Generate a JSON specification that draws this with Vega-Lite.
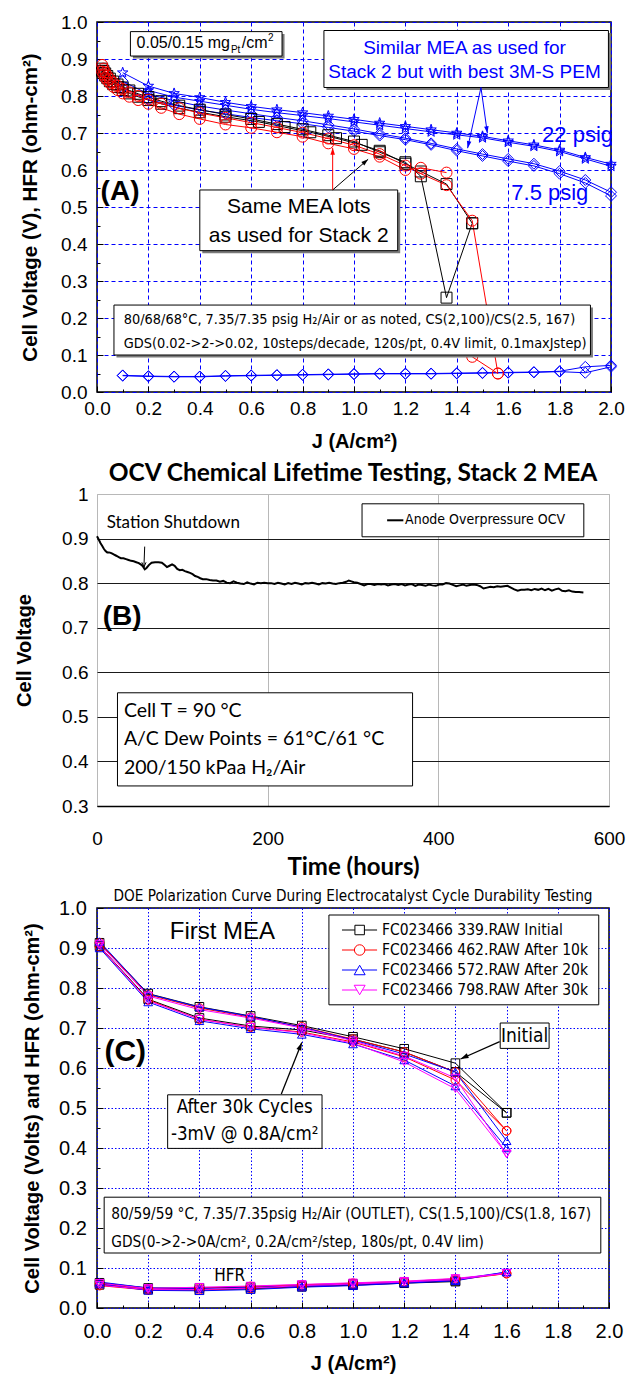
{
"$schema": "https://vega.github.io/schema/vega-lite/v6.json",
"background": "white",
"padding": {"left": 14, "top": 12, "right": 0, "bottom": 0},
"bounds": "flush",
"spacing": 102,
"resolve": {"scale": {"color": "independent", "shape": "independent", "size": "independent"}, "legend": {"color": "independent", "shape": "independent", "size": "independent"}},
"config": {"font": "Liberation Sans", "axis": {"labelColor": "#000", "titleColor": "#000", "labelFont": "Liberation Sans", "titleFont": "Liberation Sans"}, "title": {"color": "#000"}},
"datasets": {
"polA": [
{"s":"S22a","j":0.1,"v":0.863},{"s":"S22a","j":0.2,"v":0.827},{"s":"S22a","j":0.3,"v":0.807},{"s":"S22a","j":0.4,"v":0.796},{"s":"S22a","j":0.5,"v":0.783},{"s":"S22a","j":0.6,"v":0.772},{"s":"S22a","j":0.7,"v":0.763},{"s":"S22a","j":0.8,"v":0.755},{"s":"S22a","j":0.9,"v":0.746},{"s":"S22a","j":1.0,"v":0.737},{"s":"S22a","j":1.1,"v":0.727},{"s":"S22a","j":1.2,"v":0.718},{"s":"S22a","j":1.3,"v":0.709},{"s":"S22a","j":1.4,"v":0.7},{"s":"S22a","j":1.5,"v":0.691},{"s":"S22a","j":1.6,"v":0.679},{"s":"S22a","j":1.7,"v":0.668},{"s":"S22a","j":1.8,"v":0.654},{"s":"S22a","j":1.9,"v":0.634},{"s":"S22a","j":2.0,"v":0.616},
{"s":"S22b","j":0.2,"v":0.815},{"s":"S22b","j":0.3,"v":0.797},{"s":"S22b","j":0.4,"v":0.786},{"s":"S22b","j":0.5,"v":0.775},{"s":"S22b","j":0.6,"v":0.764},{"s":"S22b","j":0.7,"v":0.755},{"s":"S22b","j":0.8,"v":0.747},{"s":"S22b","j":0.9,"v":0.739},{"s":"S22b","j":1.0,"v":0.73},{"s":"S22b","j":1.1,"v":0.721},{"s":"S22b","j":1.2,"v":0.712},{"s":"S22b","j":1.3,"v":0.703},{"s":"S22b","j":1.4,"v":0.695},{"s":"S22b","j":1.5,"v":0.687},{"s":"S22b","j":1.6,"v":0.675},{"s":"S22b","j":1.7,"v":0.664},{"s":"S22b","j":1.8,"v":0.65},{"s":"S22b","j":1.9,"v":0.63},{"s":"S22b","j":2.0,"v":0.61},
{"s":"D75a","j":0.1,"v":0.84},{"s":"D75a","j":0.2,"v":0.805},{"s":"D75a","j":0.3,"v":0.787},{"s":"D75a","j":0.4,"v":0.773},{"s":"D75a","j":0.5,"v":0.762},{"s":"D75a","j":0.6,"v":0.752},{"s":"D75a","j":0.7,"v":0.742},{"s":"D75a","j":0.8,"v":0.733},{"s":"D75a","j":0.9,"v":0.722},{"s":"D75a","j":1.0,"v":0.711},{"s":"D75a","j":1.1,"v":0.698},{"s":"D75a","j":1.2,"v":0.686},{"s":"D75a","j":1.3,"v":0.672},{"s":"D75a","j":1.4,"v":0.657},{"s":"D75a","j":1.5,"v":0.643},{"s":"D75a","j":1.6,"v":0.63},{"s":"D75a","j":1.7,"v":0.617},{"s":"D75a","j":1.8,"v":0.597},{"s":"D75a","j":1.9,"v":0.573},{"s":"D75a","j":2.0,"v":0.54},
{"s":"D75b","j":0.1,"v":0.822},{"s":"D75b","j":0.2,"v":0.79},{"s":"D75b","j":0.3,"v":0.775},{"s":"D75b","j":0.4,"v":0.762},{"s":"D75b","j":0.5,"v":0.752},{"s":"D75b","j":0.6,"v":0.742},{"s":"D75b","j":0.7,"v":0.733},{"s":"D75b","j":0.8,"v":0.725},{"s":"D75b","j":0.9,"v":0.715},{"s":"D75b","j":1.0,"v":0.705},{"s":"D75b","j":1.1,"v":0.693},{"s":"D75b","j":1.2,"v":0.682},{"s":"D75b","j":1.3,"v":0.668},{"s":"D75b","j":1.4,"v":0.652},{"s":"D75b","j":1.5,"v":0.638},{"s":"D75b","j":1.6,"v":0.624},{"s":"D75b","j":1.7,"v":0.611},{"s":"D75b","j":1.8,"v":0.59},{"s":"D75b","j":1.9,"v":0.565},{"s":"D75b","j":2.0,"v":0.53},
{"s":"H1","j":0.1,"v":0.045},{"s":"H1","j":0.2,"v":0.043},{"s":"H1","j":0.3,"v":0.042},{"s":"H1","j":0.4,"v":0.042},{"s":"H1","j":0.5,"v":0.044},{"s":"H1","j":0.6,"v":0.045},{"s":"H1","j":0.7,"v":0.046},{"s":"H1","j":0.8,"v":0.047},{"s":"H1","j":0.9,"v":0.048},{"s":"H1","j":1.0,"v":0.049},{"s":"H1","j":1.1,"v":0.05},{"s":"H1","j":1.2,"v":0.05},{"s":"H1","j":1.3,"v":0.05},{"s":"H1","j":1.4,"v":0.051},{"s":"H1","j":1.5,"v":0.052},{"s":"H1","j":1.6,"v":0.053},{"s":"H1","j":1.7,"v":0.054},{"s":"H1","j":1.8,"v":0.056},{"s":"H1","j":1.9,"v":0.068},{"s":"H1","j":2.0,"v":0.072},
{"s":"H2","j":0.1,"v":0.044},{"s":"H2","j":0.2,"v":0.042},{"s":"H2","j":0.3,"v":0.041},{"s":"H2","j":0.4,"v":0.041},{"s":"H2","j":0.5,"v":0.043},{"s":"H2","j":0.6,"v":0.044},{"s":"H2","j":0.7,"v":0.045},{"s":"H2","j":0.8,"v":0.046},{"s":"H2","j":0.9,"v":0.047},{"s":"H2","j":1.0,"v":0.048},{"s":"H2","j":1.1,"v":0.049},{"s":"H2","j":1.2,"v":0.049},{"s":"H2","j":1.3,"v":0.049},{"s":"H2","j":1.4,"v":0.05},{"s":"H2","j":1.5,"v":0.051},{"s":"H2","j":1.6,"v":0.052},{"s":"H2","j":1.7,"v":0.053},{"s":"H2","j":1.8,"v":0.055},{"s":"H2","j":1.9,"v":0.052},{"s":"H2","j":2.0,"v":0.068},
{"s":"K1","j":0.02,"v":0.874},{"s":"K1","j":0.025,"v":0.868},{"s":"K1","j":0.032,"v":0.861},{"s":"K1","j":0.04,"v":0.854},{"s":"K1","j":0.05,"v":0.847},{"s":"K1","j":0.063,"v":0.839},{"s":"K1","j":0.08,"v":0.831},{"s":"K1","j":0.1,"v":0.823},{"s":"K1","j":0.126,"v":0.815},{"s":"K1","j":0.16,"v":0.806},{"s":"K1","j":0.2,"v":0.797},{"s":"K1","j":0.25,"v":0.786},{"s":"K1","j":0.32,"v":0.774},{"s":"K1","j":0.4,"v":0.763},{"s":"K1","j":0.5,"v":0.75},{"s":"K1","j":0.6,"v":0.738},{"s":"K1","j":0.7,"v":0.724},{"s":"K1","j":0.8,"v":0.71},{"s":"K1","j":0.9,"v":0.694},{"s":"K1","j":1.0,"v":0.677},{"s":"K1","j":1.1,"v":0.648},{"s":"K1","j":1.2,"v":0.621},{"s":"K1","j":1.26,"v":0.583},{"s":"K1","j":1.36,"v":0.255},{"s":"K1","j":1.46,"v":0.456},
{"s":"K2","j":0.02,"v":0.868},{"s":"K2","j":0.025,"v":0.862},{"s":"K2","j":0.032,"v":0.855},{"s":"K2","j":0.04,"v":0.848},{"s":"K2","j":0.05,"v":0.84},{"s":"K2","j":0.063,"v":0.832},{"s":"K2","j":0.08,"v":0.824},{"s":"K2","j":0.1,"v":0.816},{"s":"K2","j":0.126,"v":0.807},{"s":"K2","j":0.16,"v":0.798},{"s":"K2","j":0.2,"v":0.789},{"s":"K2","j":0.25,"v":0.779},{"s":"K2","j":0.32,"v":0.767},{"s":"K2","j":0.4,"v":0.756},{"s":"K2","j":0.5,"v":0.744},{"s":"K2","j":0.63,"v":0.73},{"s":"K2","j":0.73,"v":0.716},{"s":"K2","j":0.83,"v":0.702},{"s":"K2","j":0.93,"v":0.686},{"s":"K2","j":1.03,"v":0.668},{"s":"K2","j":1.1,"v":0.652},{"s":"K2","j":1.2,"v":0.617},{"s":"K2","j":1.26,"v":0.596},{"s":"K2","j":1.36,"v":0.562},{"s":"K2","j":1.46,"v":0.456},
{"s":"R1","j":0.02,"v":0.884},{"s":"R1","j":0.025,"v":0.874},{"s":"R1","j":0.032,"v":0.864},{"s":"R1","j":0.04,"v":0.855},{"s":"R1","j":0.05,"v":0.846},{"s":"R1","j":0.063,"v":0.837},{"s":"R1","j":0.08,"v":0.828},{"s":"R1","j":0.1,"v":0.819},{"s":"R1","j":0.126,"v":0.81},{"s":"R1","j":0.16,"v":0.8},{"s":"R1","j":0.2,"v":0.79},{"s":"R1","j":0.25,"v":0.779},{"s":"R1","j":0.32,"v":0.767},{"s":"R1","j":0.4,"v":0.754},{"s":"R1","j":0.5,"v":0.741},{"s":"R1","j":0.6,"v":0.728},{"s":"R1","j":0.7,"v":0.715},{"s":"R1","j":0.8,"v":0.701},{"s":"R1","j":0.9,"v":0.685},{"s":"R1","j":1.0,"v":0.667},{"s":"R1","j":1.1,"v":0.643},{"s":"R1","j":1.2,"v":0.612},{"s":"R1","j":1.26,"v":0.59},{"s":"R1","j":1.36,"v":0.559},{"s":"R1","j":1.46,"v":0.463},{"s":"R1","j":1.56,"v":0.05},
{"s":"R1t","j":1.46,"v":0.095},{"s":"R1t","j":1.56,"v":0.05},
{"s":"R2","j":0.02,"v":0.866},{"s":"R2","j":0.025,"v":0.858},{"s":"R2","j":0.032,"v":0.85},{"s":"R2","j":0.04,"v":0.842},{"s":"R2","j":0.05,"v":0.834},{"s":"R2","j":0.063,"v":0.825},{"s":"R2","j":0.08,"v":0.816},{"s":"R2","j":0.1,"v":0.807},{"s":"R2","j":0.126,"v":0.798},{"s":"R2","j":0.16,"v":0.789},{"s":"R2","j":0.2,"v":0.779},{"s":"R2","j":0.25,"v":0.768},{"s":"R2","j":0.32,"v":0.751},{"s":"R2","j":0.4,"v":0.738},{"s":"R2","j":0.5,"v":0.723},{"s":"R2","j":0.6,"v":0.714},{"s":"R2","j":0.7,"v":0.702},{"s":"R2","j":0.8,"v":0.69},{"s":"R2","j":0.9,"v":0.672},{"s":"R2","j":1.0,"v":0.657},{"s":"R2","j":1.1,"v":0.636},{"s":"R2","j":1.2,"v":0.6},{"s":"R2","j":1.26,"v":0.606},{"s":"R2","j":1.36,"v":0.593}
],
"ocv": [
{"t":0,"v":0.905},{"t":2,"v":0.898},{"t":4,"v":0.89},{"t":6,"v":0.884},{"t":8,"v":0.877},{"t":10,"v":0.872},{"t":12,"v":0.869},{"t":14,"v":0.869},{"t":16,"v":0.868},{"t":18,"v":0.866},{"t":20,"v":0.864},{"t":22,"v":0.862},{"t":24,"v":0.86},{"t":26,"v":0.858},{"t":28,"v":0.856},{"t":31,"v":0.856},{"t":34,"v":0.854},{"t":37,"v":0.852},{"t":40,"v":0.85},{"t":43,"v":0.849},{"t":46,"v":0.847},{"t":49,"v":0.845},{"t":52,"v":0.841},{"t":54,"v":0.837},{"t":56,"v":0.831},{"t":58,"v":0.834},{"t":61,"v":0.841},{"t":64,"v":0.846},{"t":68,"v":0.847},{"t":72,"v":0.847},{"t":76,"v":0.846},{"t":79,"v":0.841},{"t":82,"v":0.836},{"t":85,"v":0.839},{"t":88,"v":0.842},{"t":91,"v":0.839},{"t":94,"v":0.832},{"t":97,"v":0.829},{"t":100,"v":0.83},{"t":103,"v":0.827},{"t":106,"v":0.825},{"t":109,"v":0.823},{"t":112,"v":0.82},{"t":115,"v":0.816},{"t":118,"v":0.814},{"t":121,"v":0.811},{"t":124,"v":0.809},{"t":128,"v":0.809},{"t":132,"v":0.807},{"t":136,"v":0.806},{"t":140,"v":0.806},{"t":144,"v":0.803},{"t":148,"v":0.805},{"t":152,"v":0.801},{"t":156,"v":0.8},{"t":160,"v":0.804},{"t":164,"v":0.801},{"t":168,"v":0.799},{"t":172,"v":0.798},{"t":176,"v":0.802},{"t":180,"v":0.799},{"t":184,"v":0.797},{"t":188,"v":0.801},{"t":192,"v":0.8},{"t":196,"v":0.801},{"t":200,"v":0.8},{"t":204,"v":0.8},{"t":208,"v":0.798},{"t":212,"v":0.801},{"t":216,"v":0.799},{"t":220,"v":0.797},{"t":224,"v":0.8},{"t":228,"v":0.798},{"t":232,"v":0.801},{"t":236,"v":0.799},{"t":240,"v":0.797},{"t":244,"v":0.8},{"t":248,"v":0.799},{"t":252,"v":0.801},{"t":256,"v":0.799},{"t":260,"v":0.797},{"t":264,"v":0.8},{"t":268,"v":0.799},{"t":272,"v":0.801},{"t":276,"v":0.799},{"t":280,"v":0.798},{"t":284,"v":0.8},{"t":288,"v":0.801},{"t":292,"v":0.803},{"t":295,"v":0.806},{"t":298,"v":0.804},{"t":301,"v":0.802},{"t":305,"v":0.801},{"t":309,"v":0.798},{"t":313,"v":0.795},{"t":317,"v":0.798},{"t":321,"v":0.798},{"t":325,"v":0.796},{"t":329,"v":0.798},{"t":333,"v":0.797},{"t":337,"v":0.798},{"t":341,"v":0.795},{"t":345,"v":0.797},{"t":349,"v":0.798},{"t":353,"v":0.796},{"t":357,"v":0.798},{"t":361,"v":0.795},{"t":365,"v":0.797},{"t":369,"v":0.798},{"t":373,"v":0.794},{"t":377,"v":0.797},{"t":381,"v":0.796},{"t":385,"v":0.794},{"t":389,"v":0.797},{"t":393,"v":0.795},{"t":397,"v":0.794},{"t":401,"v":0.797},{"t":405,"v":0.797},{"t":409,"v":0.8},{"t":413,"v":0.799},{"t":417,"v":0.796},{"t":421,"v":0.793},{"t":425,"v":0.795},{"t":429,"v":0.797},{"t":433,"v":0.794},{"t":437,"v":0.796},{"t":441,"v":0.797},{"t":445,"v":0.796},{"t":449,"v":0.793},{"t":453,"v":0.788},{"t":457,"v":0.79},{"t":461,"v":0.792},{"t":465,"v":0.791},{"t":469,"v":0.793},{"t":473,"v":0.792},{"t":477,"v":0.793},{"t":481,"v":0.794},{"t":485,"v":0.79},{"t":489,"v":0.786},{"t":493,"v":0.783},{"t":497,"v":0.785},{"t":501,"v":0.785},{"t":505,"v":0.786},{"t":509,"v":0.784},{"t":513,"v":0.787},{"t":517,"v":0.785},{"t":521,"v":0.788},{"t":525,"v":0.784},{"t":529,"v":0.787},{"t":533,"v":0.783},{"t":537,"v":0.786},{"t":541,"v":0.788},{"t":545,"v":0.783},{"t":549,"v":0.782},{"t":553,"v":0.784},{"t":557,"v":0.781},{"t":561,"v":0.78},{"t":565,"v":0.78},{"t":570,"v":0.779}
],
"polC": [
{"s":"a","b":"pu","j":0.01,"v":0.913},{"s":"a","b":"pu","j":0.2,"v":0.786},{"s":"a","b":"pu","j":0.4,"v":0.753},{"s":"a","b":"pu","j":0.6,"v":0.73},{"s":"a","b":"pu","j":0.8,"v":0.706},{"s":"a","b":"pu","j":1.0,"v":0.678},{"s":"a","b":"pu","j":1.2,"v":0.648},{"s":"a","b":"pu","j":1.4,"v":0.612},{"s":"a","b":"pu","j":1.6,"v":0.488},
{"s":"a","b":"pd","j":1.6,"v":0.488},{"s":"a","b":"pd","j":1.4,"v":0.59},{"s":"a","b":"pd","j":1.2,"v":0.64},{"s":"a","b":"pd","j":1.0,"v":0.672},{"s":"a","b":"pd","j":0.8,"v":0.695},{"s":"a","b":"pd","j":0.6,"v":0.705},{"s":"a","b":"pd","j":0.4,"v":0.725},{"s":"a","b":"pd","j":0.2,"v":0.772},{"s":"a","b":"pd","j":0.01,"v":0.905},
{"s":"a","b":"hu","j":0.01,"v":0.063},{"s":"a","b":"hu","j":0.2,"v":0.05},{"s":"a","b":"hu","j":0.4,"v":0.05},{"s":"a","b":"hu","j":0.6,"v":0.052},{"s":"a","b":"hu","j":0.8,"v":0.056},{"s":"a","b":"hu","j":1.0,"v":0.06},{"s":"a","b":"hu","j":1.2,"v":0.064},{"s":"a","b":"hu","j":1.4,"v":0.068},
{"s":"a","b":"hd","j":1.4,"v":0.066},{"s":"a","b":"hd","j":1.2,"v":0.062},{"s":"a","b":"hd","j":1.0,"v":0.057},{"s":"a","b":"hd","j":0.8,"v":0.053},{"s":"a","b":"hd","j":0.6,"v":0.048},{"s":"a","b":"hd","j":0.4,"v":0.045},{"s":"a","b":"hd","j":0.2,"v":0.046},{"s":"a","b":"hd","j":0.01,"v":0.058},
{"s":"b","b":"pu","j":0.01,"v":0.913},{"s":"b","b":"pu","j":0.2,"v":0.783},{"s":"b","b":"pu","j":0.4,"v":0.75},{"s":"b","b":"pu","j":0.6,"v":0.727},{"s":"b","b":"pu","j":0.8,"v":0.703},{"s":"b","b":"pu","j":1.0,"v":0.672},{"s":"b","b":"pu","j":1.2,"v":0.64},{"s":"b","b":"pu","j":1.4,"v":0.59},{"s":"b","b":"pu","j":1.6,"v":0.443},
{"s":"b","b":"pd","j":1.6,"v":0.443},{"s":"b","b":"pd","j":1.4,"v":0.57},{"s":"b","b":"pd","j":1.2,"v":0.628},{"s":"b","b":"pd","j":1.0,"v":0.665},{"s":"b","b":"pd","j":0.8,"v":0.69},{"s":"b","b":"pd","j":0.6,"v":0.702},{"s":"b","b":"pd","j":0.4,"v":0.722},{"s":"b","b":"pd","j":0.2,"v":0.77},{"s":"b","b":"pd","j":0.01,"v":0.903},
{"s":"b","b":"hu","j":0.01,"v":0.06},{"s":"b","b":"hu","j":0.2,"v":0.048},{"s":"b","b":"hu","j":0.4,"v":0.05},{"s":"b","b":"hu","j":0.6,"v":0.054},{"s":"b","b":"hu","j":0.8,"v":0.058},{"s":"b","b":"hu","j":1.0,"v":0.062},{"s":"b","b":"hu","j":1.2,"v":0.066},{"s":"b","b":"hu","j":1.4,"v":0.073},{"s":"b","b":"hu","j":1.6,"v":0.086},
{"s":"b","b":"hd","j":1.6,"v":0.086},{"s":"b","b":"hd","j":1.4,"v":0.07},{"s":"b","b":"hd","j":1.2,"v":0.064},{"s":"b","b":"hd","j":1.0,"v":0.059},{"s":"b","b":"hd","j":0.8,"v":0.054},{"s":"b","b":"hd","j":0.6,"v":0.049},{"s":"b","b":"hd","j":0.4,"v":0.045},{"s":"b","b":"hd","j":0.2,"v":0.045},{"s":"b","b":"hd","j":0.01,"v":0.056},
{"s":"c","b":"pu","j":0.01,"v":0.916},{"s":"c","b":"pu","j":0.2,"v":0.785},{"s":"c","b":"pu","j":0.4,"v":0.752},{"s":"c","b":"pu","j":0.6,"v":0.729},{"s":"c","b":"pu","j":0.8,"v":0.702},{"s":"c","b":"pu","j":1.0,"v":0.67},{"s":"c","b":"pu","j":1.2,"v":0.635},{"s":"c","b":"pu","j":1.4,"v":0.59},{"s":"c","b":"pu","j":1.6,"v":0.418},
{"s":"c","b":"pd","j":1.6,"v":0.4},{"s":"c","b":"pd","j":1.4,"v":0.555},{"s":"c","b":"pd","j":1.2,"v":0.62},{"s":"c","b":"pd","j":1.0,"v":0.66},{"s":"c","b":"pd","j":0.8,"v":0.684},{"s":"c","b":"pd","j":0.6,"v":0.698},{"s":"c","b":"pd","j":0.4,"v":0.718},{"s":"c","b":"pd","j":0.2,"v":0.765},{"s":"c","b":"pd","j":0.01,"v":0.9},
{"s":"c","b":"hu","j":0.01,"v":0.065},{"s":"c","b":"hu","j":0.2,"v":0.05},{"s":"c","b":"hu","j":0.4,"v":0.049},{"s":"c","b":"hu","j":0.6,"v":0.051},{"s":"c","b":"hu","j":0.8,"v":0.055},{"s":"c","b":"hu","j":1.0,"v":0.059},{"s":"c","b":"hu","j":1.2,"v":0.064},{"s":"c","b":"hu","j":1.4,"v":0.071},{"s":"c","b":"hu","j":1.6,"v":0.09},
{"s":"c","b":"hd","j":1.6,"v":0.09},{"s":"c","b":"hd","j":1.4,"v":0.068},{"s":"c","b":"hd","j":1.2,"v":0.062},{"s":"c","b":"hd","j":1.0,"v":0.056},{"s":"c","b":"hd","j":0.8,"v":0.052},{"s":"c","b":"hd","j":0.6,"v":0.046},{"s":"c","b":"hd","j":0.4,"v":0.043},{"s":"c","b":"hd","j":0.2,"v":0.044},{"s":"c","b":"hd","j":0.01,"v":0.06},
{"s":"d","b":"pu","j":0.01,"v":0.91},{"s":"d","b":"pu","j":0.2,"v":0.78},{"s":"d","b":"pu","j":0.4,"v":0.746},{"s":"d","b":"pu","j":0.6,"v":0.725},{"s":"d","b":"pu","j":0.8,"v":0.7},{"s":"d","b":"pu","j":1.0,"v":0.668},{"s":"d","b":"pu","j":1.2,"v":0.63},{"s":"d","b":"pu","j":1.4,"v":0.575},{"s":"d","b":"pu","j":1.6,"v":0.385},
{"s":"d","b":"pd","j":1.6,"v":0.385},{"s":"d","b":"pd","j":1.4,"v":0.548},{"s":"d","b":"pd","j":1.2,"v":0.615},{"s":"d","b":"pd","j":1.0,"v":0.662},{"s":"d","b":"pd","j":0.8,"v":0.688},{"s":"d","b":"pd","j":0.6,"v":0.702},{"s":"d","b":"pd","j":0.4,"v":0.722},{"s":"d","b":"pd","j":0.2,"v":0.768},{"s":"d","b":"pd","j":0.01,"v":0.905},
{"s":"d","b":"hu","j":0.01,"v":0.062},{"s":"d","b":"hu","j":0.2,"v":0.049},{"s":"d","b":"hu","j":0.4,"v":0.052},{"s":"d","b":"hu","j":0.6,"v":0.055},{"s":"d","b":"hu","j":0.8,"v":0.059},{"s":"d","b":"hu","j":1.0,"v":0.063},{"s":"d","b":"hu","j":1.2,"v":0.067},{"s":"d","b":"hu","j":1.4,"v":0.074},{"s":"d","b":"hu","j":1.6,"v":0.087},
{"s":"d","b":"hd","j":1.6,"v":0.087},{"s":"d","b":"hd","j":1.4,"v":0.071},{"s":"d","b":"hd","j":1.2,"v":0.065},{"s":"d","b":"hd","j":1.0,"v":0.06},{"s":"d","b":"hd","j":0.8,"v":0.056},{"s":"d","b":"hd","j":0.6,"v":0.05},{"s":"d","b":"hd","j":0.4,"v":0.046},{"s":"d","b":"hd","j":0.2,"v":0.046},{"s":"d","b":"hd","j":0.01,"v":0.057}
]
},
"vconcat": [
{
"width": 514, "height": 370,
"view": {"stroke": "#000", "strokeWidth": 1.5},
"layer": [
{"data": {"name": "polA"}, "mark": {"type": "line", "strokeWidth": 1},
 "encoding": {
  "x": {"field": "j", "type": "quantitative", "title": "J (A/cm²)", "scale": {"domain": [0, 2], "nice": false, "zero": false},
   "axis": {"values": [0,0.1,0.2,0.3,0.4,0.5,0.6,0.7,0.8,0.9,1,1.1,1.2,1.3,1.4,1.5,1.6,1.7,1.8,1.9,2], "tickCount": 100, "labelExpr": "round(datum.value*10)%2==0 ? format(datum.value,'.1f') : ''", "labelFontSize": 19, "labelPadding": 13.8, "labelFlush": false, "labelOverlap": false, "labelBound": false, "ticks": true, "tickColor": "#000", "tickWidth": 1, "tickSize": {"condition": {"test": "round(datum.value*10)%2==1", "value": -3}, "value": -6}, "grid": true, "gridColor": "#0000ff", "gridWidth": 1, "gridDash": [4,3], "gridOpacity": {"condition": {"test": "round(datum.value*10)%2==1", "value": 0}, "value": 1}, "domain": false, "titleFontSize": 20, "titleFontWeight": "bold", "titlePadding": 9.6}},
  "y": {"field": "v", "type": "quantitative", "title": "Cell Voltage (V), HFR (ohm-cm²)", "scale": {"domain": [0, 1], "nice": false, "zero": false},
   "axis": {"values": [0,0.05,0.1,0.15,0.2,0.25,0.3,0.35,0.4,0.45,0.5,0.55,0.6,0.65,0.7,0.75,0.8,0.85,0.9,0.95,1], "tickCount": 100, "labelExpr": "round(datum.value*100)%10==0 ? format(datum.value,'.1f') : ''", "labelFontSize": 19, "labelPadding": 16, "labelOverlap": false, "labelBound": false, "ticks": true, "tickColor": "#000", "tickWidth": 1, "tickSize": {"condition": {"test": "round(datum.value*100)%10!=0", "value": -3}, "value": -6}, "grid": true, "gridColor": "#0000ff", "gridWidth": 1, "gridDash": [4,3], "gridOpacity": {"condition": {"test": "round(datum.value*100)%10!=0", "value": 0}, "value": 1}, "domain": false, "titleFontSize": 20.5, "titleFontWeight": "bold", "titlePadding": 20}},
  "color": {"field": "s", "type": "nominal", "scale": {"domain": ["S22a","S22b","D75a","D75b","H1","H2","K1","K2","R1","R1t","R2"], "range": ["#0000ff","#0000ff","#0000ff","#0000ff","#0000ff","#0000ff","#000000","#000000","#ff0000","#ff0000","#ff0000"]}, "legend": null}
 }},
{"data": {"name": "polA"}, "mark": {"type": "point", "filled": false, "strokeWidth": 1, "opacity": 1},
 "encoding": {
  "x": {"field": "j", "type": "quantitative"},
  "y": {"field": "v", "type": "quantitative"},
  "color": {"field": "s", "type": "nominal", "legend": null},
  "shape": {"field": "s", "type": "nominal", "scale": {"domain": ["S22a","S22b","D75a","D75b","H1","H2","K1","K2","R1","R1t","R2"], "range": ["M0,-1L0.235,-0.324L0.951,-0.309L0.38,0.124L0.588,0.809L0,0.4L-0.588,0.809L-0.38,0.124L-0.951,-0.309L-0.235,-0.324Z","M0,-1L0.235,-0.324L0.951,-0.309L0.38,0.124L0.588,0.809L0,0.4L-0.588,0.809L-0.38,0.124L-0.951,-0.309L-0.235,-0.324Z","M0,-1L1,0L0,1L-1,0Z","M0,-1L1,0L0,1L-1,0Z","M0,-1L1,0L0,1L-1,0Z","M0,-1L1,0L0,1L-1,0Z","square","square","circle","circle","circle"]}, "legend": null},
  "size": {"field": "s", "type": "nominal", "scale": {"domain": ["S22a","S22b","D75a","D75b","H1","H2","K1","K2","R1","R1t","R2"], "range": [120,120,90,90,90,90,45,45,75,75,75]}, "legend": null}
 }},
{"data": {"values": [{}]}, "mark": {"type": "rect", "fill": "#7a7a7a", "xOffset": 2.5, "x2Offset": 2.5, "yOffset": 2.5, "y2Offset": 2.5}, "encoding": {"x": {"datum": 0.13}, "x2": {"datum": 0.72}, "y": {"datum": 0.908}, "y2": {"datum": 0.974}}},
{"data": {"values": [{}]}, "mark": {"type": "rect", "fill": "#7a7a7a", "xOffset": 2.5, "x2Offset": 2.5, "yOffset": 2.5, "y2Offset": 2.5}, "encoding": {"x": {"datum": 0.883}, "x2": {"datum": 1.99}, "y": {"datum": 0.823}, "y2": {"datum": 0.977}}},
{"data": {"values": [{}]}, "mark": {"type": "rect", "fill": "#7a7a7a", "xOffset": 2.5, "x2Offset": 2.5, "yOffset": 2.5, "y2Offset": 2.5}, "encoding": {"x": {"datum": 0.4}, "x2": {"datum": 1.17}, "y": {"datum": 0.382}, "y2": {"datum": 0.546}}},
{"data": {"values": [{}]}, "mark": {"type": "rect", "fill": "#7a7a7a", "xOffset": 2.5, "x2Offset": 2.5, "yOffset": 2.5, "y2Offset": 2.5}, "encoding": {"x": {"datum": 0.066}, "x2": {"datum": 1.92}, "y": {"datum": 0.1}, "y2": {"datum": 0.235}}},
{"data": {"values": [{}]}, "mark": {"type": "rect", "fill": "#fff", "stroke": "#000", "strokeWidth": 1}, "encoding": {"x": {"datum": 0.13}, "x2": {"datum": 0.72}, "y": {"datum": 0.908}, "y2": {"datum": 0.974}}},
{"data": {"values": [{}]}, "mark": {"type": "rect", "fill": "#fff", "stroke": "#000", "strokeWidth": 1}, "encoding": {"x": {"datum": 0.883}, "x2": {"datum": 1.99}, "y": {"datum": 0.823}, "y2": {"datum": 0.977}}},
{"data": {"values": [{}]}, "mark": {"type": "rect", "fill": "#fff", "stroke": "#000", "strokeWidth": 1}, "encoding": {"x": {"datum": 0.4}, "x2": {"datum": 1.17}, "y": {"datum": 0.382}, "y2": {"datum": 0.546}}},
{"data": {"values": [{}]}, "mark": {"type": "rect", "fill": "#fff", "stroke": "#000", "strokeWidth": 1}, "encoding": {"x": {"datum": 0.066}, "x2": {"datum": 1.92}, "y": {"datum": 0.1}, "y2": {"datum": 0.235}}},
{"data": {"values": [{}]}, "mark": {"type": "text", "text": "0.05/0.15 mg", "align": "left", "baseline": "middle", "fontSize": 16, "color": "#000"}, "encoding": {"x": {"datum": 0.154}, "y": {"datum": 0.942}}},
{"data": {"values": [{}]}, "mark": {"type": "text", "text": "Pt", "align": "left", "baseline": "middle", "fontSize": 10, "color": "#000"}, "encoding": {"x": {"datum": 0.521}, "y": {"datum": 0.924}}},
{"data": {"values": [{}]}, "mark": {"type": "text", "text": "/cm", "align": "left", "baseline": "middle", "fontSize": 16, "color": "#000"}, "encoding": {"x": {"datum": 0.563}, "y": {"datum": 0.942}}},
{"data": {"values": [{}]}, "mark": {"type": "text", "text": "2", "align": "left", "baseline": "middle", "fontSize": 10, "color": "#000"}, "encoding": {"x": {"datum": 0.665}, "y": {"datum": 0.957}}},
{"data": {"values": [{}]}, "mark": {"type": "text", "text": "Similar MEA as used for\nStack 2 but with best 3M-S PEM", "lineBreak": "\n", "lineHeight": 24, "align": "center", "baseline": "middle", "fontSize": 19, "color": "#0000ff"}, "encoding": {"x": {"datum": 1.43}, "y": {"datum": 0.93}}},
{"data": {"values": [{}]}, "mark": {"type": "text", "text": "22 psig", "align": "center", "baseline": "middle", "fontSize": 22, "color": "#0000ff"}, "encoding": {"x": {"datum": 1.87}, "y": {"datum": 0.695}}},
{"data": {"values": [{}]}, "mark": {"type": "text", "text": "7.5 psig", "align": "center", "baseline": "middle", "fontSize": 22, "color": "#0000ff"}, "encoding": {"x": {"datum": 1.762}, "y": {"datum": 0.537}}},
{"data": {"values": [{}]}, "mark": {"type": "text", "text": "Same MEA lots\nas used for Stack 2", "lineBreak": "\n", "lineHeight": 29, "align": "center", "baseline": "middle", "fontSize": 21, "color": "#000"}, "encoding": {"x": {"datum": 0.785}, "y": {"datum": 0.5}}},
{"data": {"values": [{}]}, "mark": {"type": "text", "text": "80/68/68°C, 7.35/7.35 psig H₂/Air or as noted, CS(2,100)/CS(2.5, 167)\nGDS(0.02->2->0.02, 10steps/decade, 120s/pt, 0.4V limit, 0.1maxJstep)", "lineBreak": "\n", "lineHeight": 24, "align": "left", "baseline": "middle", "fontSize": 14.4, "font": "Liberation Sans Narrow, Arial Narrow, DejaVu Sans Condensed, sans-serif", "color": "#000"}, "encoding": {"x": {"datum": 0.104}, "y": {"datum": 0.195}}},
{"data": {"values": [{}]}, "mark": {"type": "text", "text": "(A)", "align": "left", "baseline": "middle", "fontSize": 28, "fontWeight": "bold", "color": "#000"}, "encoding": {"x": {"datum": 0.014}, "y": {"datum": 0.541}}},
{"data": {"values": [{}]}, "mark": {"type": "rule", "color": "#ff0000", "strokeWidth": 1}, "encoding": {"x": {"datum": 0.917}, "y": {"datum": 0.546}, "x2": {"datum": 0.917}, "y2": {"datum": 0.66}}},
{"data": {"values": [{}]}, "mark": {"type": "rule", "color": "#000", "strokeWidth": 1}, "encoding": {"x": {"datum": 0.917}, "y": {"datum": 0.546}, "x2": {"datum": 1.055}, "y2": {"datum": 0.629}}},
{"data": {"values": [{}]}, "mark": {"type": "rule", "color": "#0000ff", "strokeWidth": 1}, "encoding": {"x": {"datum": 1.494}, "y": {"datum": 0.823}, "x2": {"datum": 1.442}, "y2": {"datum": 0.659}}},
{"data": {"values": [{}]}, "mark": {"type": "rule", "color": "#0000ff", "strokeWidth": 1}, "encoding": {"x": {"datum": 1.494}, "y": {"datum": 0.823}, "x2": {"datum": 1.519}, "y2": {"datum": 0.699}}},
{"data": {"values": [{}]}, "mark": {"type": "point", "shape": "M0,0L0.65,2L-0.65,2Z", "filled": true, "size": 49, "angle": 0, "color": "#ff0000", "opacity": 1, "strokeWidth": 0}, "encoding": {"x": {"datum": 0.917}, "y": {"datum": 0.66}}},
{"data": {"values": [{}]}, "mark": {"type": "point", "shape": "M0,0L0.65,2L-0.65,2Z", "filled": true, "size": 49, "angle": 49.3, "color": "#000", "opacity": 1, "strokeWidth": 0}, "encoding": {"x": {"datum": 1.055}, "y": {"datum": 0.629}}},
{"data": {"values": [{}]}, "mark": {"type": "point", "shape": "M0,0L0.65,2L-0.65,2Z", "filled": true, "size": 49, "angle": 192.8, "color": "#0000ff", "opacity": 1, "strokeWidth": 0}, "encoding": {"x": {"datum": 1.442}, "y": {"datum": 0.659}}},
{"data": {"values": [{}]}, "mark": {"type": "point", "shape": "M0,0L0.65,2L-0.65,2Z", "filled": true, "size": 49, "angle": 171.6, "color": "#0000ff", "opacity": 1, "strokeWidth": 0}, "encoding": {"x": {"datum": 1.519}, "y": {"datum": 0.699}}}
]
},
{
"width": 512, "height": 312,
"title": {"text": "OCV Chemical Lifetime Testing, Stack 2 MEA", "font": "Lato", "fontSize": 24.5, "fontWeight": "bold", "offset": -1, "frame": "group", "color": "#000"},
"view": {"stroke": "#b8b8b8", "strokeWidth": 1},
"layer": [
{"data": {"name": "ocv"}, "mark": {"type": "line", "color": "#000", "strokeWidth": 2},
 "encoding": {
  "x": {"field": "t", "type": "quantitative", "title": "Time (hours)", "scale": {"domain": [0, 600], "nice": false},
   "axis": {"values": [0,200,400,600], "tickCount": 100, "ticks": false, "domain": true, "domainColor": "#000", "domainWidth": 1.5, "grid": true, "gridColor": "#b8b8b8", "gridWidth": 1, "labelFontSize": 19, "labelPadding": 23.8, "labelFlush": false, "labelOverlap": false, "titleFont": "Lato", "titleFontSize": 24, "titleFontWeight": "bold", "titlePadding": 7}},
  "y": {"field": "v", "type": "quantitative", "title": "Cell Voltage", "scale": {"domain": [0.3, 1], "nice": false, "zero": false},
   "axis": {"values": [0.3,0.4,0.5,0.6,0.7,0.8,0.9,1], "tickCount": 100, "ticks": false, "domain": false, "grid": true, "gridColor": {"condition": {"test": "datum.value>0.95", "value": "#b8b8b8"}, "value": "#1a1a1a"}, "gridWidth": 1, "labelExpr": "datum.value>0.95 ? '1' : format(datum.value,'.1f')", "labelFontSize": 19, "labelPadding": 9, "labelOverlap": false, "titleFontSize": 20, "titleFontWeight": "bold", "titlePadding": 26.6}}
 }},
{"data": {"values": [{}]}, "mark": {"type": "rect", "fill": "#fff", "stroke": "#000", "strokeWidth": 1}, "encoding": {"x": {"datum": 310.6}, "x2": {"datum": 570.5}, "y": {"datum": 0.904}, "y2": {"datum": 0.978}}},
{"data": {"values": [{}]}, "mark": {"type": "rule", "color": "#000", "strokeWidth": 2}, "encoding": {"x": {"datum": 340}, "x2": {"datum": 359}, "y": {"datum": 0.941}}},
{"data": {"values": [{}]}, "mark": {"type": "text", "text": "Anode Overpressure OCV", "align": "left", "baseline": "middle", "fontSize": 14, "font": "Liberation Sans Narrow, Arial Narrow, DejaVu Sans Condensed, sans-serif", "color": "#000"}, "encoding": {"x": {"datum": 361}, "y": {"datum": 0.941}}},
{"data": {"values": [{}]}, "mark": {"type": "text", "text": "Station Shutdown", "align": "left", "baseline": "middle", "fontSize": 17, "font": "Lato", "color": "#000"}, "encoding": {"x": {"datum": 11.3}, "y": {"datum": 0.935}}},
{"data": {"values": [{}]}, "mark": {"type": "rule", "color": "#000", "strokeWidth": 1}, "encoding": {"x": {"datum": 55.9}, "y": {"datum": 0.882}, "x2": {"datum": 55}, "y2": {"datum": 0.836}}},
{"data": {"values": [{}]}, "mark": {"type": "point", "shape": "M-0.7,1.6L0,0L0.7,1.6", "filled": false, "size": 36, "angle": 180, "color": "#000", "opacity": 1, "strokeWidth": 1}, "encoding": {"x": {"datum": 55}, "y": {"datum": 0.836}}},
{"data": {"values": [{}]}, "mark": {"type": "text", "text": "(B)", "align": "left", "baseline": "middle", "fontSize": 28, "fontWeight": "bold", "color": "#000"}, "encoding": {"x": {"datum": 6.6}, "y": {"datum": 0.723}}},
{"data": {"values": [{}]}, "mark": {"type": "rect", "fill": "#fff", "stroke": "#000", "strokeWidth": 1}, "encoding": {"x": {"datum": 24}, "x2": {"datum": 369.8}, "y": {"datum": 0.345}, "y2": {"datum": 0.554}}},
{"data": {"values": [{}]}, "mark": {"type": "text", "text": "Cell T = 90 °C\nA/C Dew Points = 61°C/61 °C\n200/150 kPaa  H₂/Air", "lineBreak": "\n", "lineHeight": 28.5, "align": "left", "baseline": "middle", "fontSize": 19.5, "font": "Lato", "color": "#000"}, "encoding": {"x": {"datum": 31.5}, "y": {"datum": 0.514}}}
]
},
{
"width": 512, "height": 400,
"title": {"text": "DOE Polarization Curve During Electrocatalyst Cycle Durability Testing", "font": "Liberation Sans Narrow, Arial Narrow, DejaVu Sans Condensed, sans-serif", "fontSize": 15.2, "fontWeight": "normal", "offset": -6, "frame": "group", "color": "#000"},
"view": {"stroke": "#000", "strokeWidth": 1.5},
"layer": [
{"data": {"name": "polC"}, "mark": {"type": "line", "strokeWidth": 1},
 "encoding": {
  "x": {"field": "j", "type": "quantitative", "title": "J (A/cm²)", "scale": {"domain": [0, 2], "nice": false, "zero": false},
   "axis": {"values": [0,0.1,0.2,0.3,0.4,0.5,0.6,0.7,0.8,0.9,1,1.1,1.2,1.3,1.4,1.5,1.6,1.7,1.8,1.9,2], "tickCount": 100, "labelExpr": "round(datum.value*10)%2==0 ? format(datum.value,'.1f') : ''", "labelFontSize": 20, "labelPadding": 19.4, "labelFlush": false, "labelOverlap": false, "labelBound": false, "ticks": true, "tickColor": "#000", "tickWidth": 1, "tickSize": {"condition": {"test": "round(datum.value*10)%2==1", "value": -3}, "value": -6}, "grid": true, "gridColor": "#0000ff", "gridWidth": 1, "gridDash": [1.5,2], "gridOpacity": {"condition": {"test": "round(datum.value*10)%2==1", "value": 0}, "value": 1}, "domain": false, "titleFontSize": 20, "titleFontWeight": "bold", "titlePadding": 9}},
  "y": {"field": "v", "type": "quantitative", "title": "Cell Voltage (Volts) and HFR (ohm-cm²)", "scale": {"domain": [0, 1], "nice": false, "zero": false},
   "axis": {"values": [0,0.05,0.1,0.15,0.2,0.25,0.3,0.35,0.4,0.45,0.5,0.55,0.6,0.65,0.7,0.75,0.8,0.85,0.9,0.95,1], "tickCount": 100, "labelExpr": "round(datum.value*100)%10==0 ? format(datum.value,'.1f') : ''", "labelFontSize": 20, "labelPadding": 16.7, "labelOverlap": false, "labelBound": false, "ticks": true, "tickColor": "#000", "tickWidth": 1, "tickSize": {"condition": {"test": "round(datum.value*100)%10!=0", "value": -3}, "value": -6}, "grid": true, "gridColor": "#0000ff", "gridWidth": 1, "gridDash": [1.5,2], "gridOpacity": {"condition": {"test": "round(datum.value*100)%10!=0", "value": 0}, "value": 1}, "domain": false, "titleFontSize": 20, "titleFontWeight": "bold", "titlePadding": 15.5}},
  "color": {"field": "s", "type": "nominal", "scale": {"domain": ["a","b","c","d"], "range": ["#000000","#ff0000","#0000ff","#ff00ff"]}, "legend": null},
  "detail": {"field": "b"}
 }},
{"data": {"name": "polC"}, "mark": {"type": "point", "filled": false, "strokeWidth": 1, "opacity": 1, "size": 75},
 "encoding": {
  "x": {"field": "j", "type": "quantitative"},
  "y": {"field": "v", "type": "quantitative"},
  "color": {"field": "s", "type": "nominal", "legend": null},
  "shape": {"field": "s", "type": "nominal", "scale": {"domain": ["a","b","c","d"], "range": ["square","circle","triangle-up","triangle-down"]}, "legend": null}
 }},
{"data": {"values": [{}]}, "mark": {"type": "rect", "fill": "#fff", "stroke": "#000", "strokeWidth": 1}, "encoding": {"x": {"datum": 0.906}, "x2": {"datum": 1.96}, "y": {"datum": 0.758}, "y2": {"datum": 0.9825}}},
{"data": {"values": [{}]}, "mark": {"type": "rule", "color": "#000", "strokeWidth": 1}, "encoding": {"x": {"datum": 0.957}, "x2": {"datum": 1.094}, "y": {"datum": 0.945}}},
{"data": {"values": [{}]}, "mark": {"type": "rule", "color": "#ff0000", "strokeWidth": 1}, "encoding": {"x": {"datum": 0.957}, "x2": {"datum": 1.094}, "y": {"datum": 0.895}}},
{"data": {"values": [{}]}, "mark": {"type": "rule", "color": "#0000ff", "strokeWidth": 1}, "encoding": {"x": {"datum": 0.957}, "x2": {"datum": 1.094}, "y": {"datum": 0.845}}},
{"data": {"values": [{}]}, "mark": {"type": "rule", "color": "#ff00ff", "strokeWidth": 1}, "encoding": {"x": {"datum": 0.957}, "x2": {"datum": 1.094}, "y": {"datum": 0.795}}},
{"data": {"values": [{}]}, "mark": {"type": "point", "shape": "square", "filled": true, "fill": "#fff", "stroke": "#000", "strokeWidth": 1, "size": 90, "opacity": 1}, "encoding": {"x": {"datum": 1.026}, "y": {"datum": 0.945}}},
{"data": {"values": [{}]}, "mark": {"type": "point", "shape": "circle", "filled": true, "fill": "#fff", "stroke": "#ff0000", "strokeWidth": 1, "size": 110, "opacity": 1}, "encoding": {"x": {"datum": 1.026}, "y": {"datum": 0.895}}},
{"data": {"values": [{}]}, "mark": {"type": "point", "shape": "triangle-up", "filled": true, "fill": "#fff", "stroke": "#0000ff", "strokeWidth": 1, "size": 120, "opacity": 1}, "encoding": {"x": {"datum": 1.026}, "y": {"datum": 0.845}}},
{"data": {"values": [{}]}, "mark": {"type": "point", "shape": "triangle-down", "filled": true, "fill": "#fff", "stroke": "#ff00ff", "strokeWidth": 1, "size": 120, "opacity": 1}, "encoding": {"x": {"datum": 1.026}, "y": {"datum": 0.795}}},
{"data": {"values": [{}]}, "mark": {"type": "text", "text": "FC023466 339.RAW Initial", "align": "left", "baseline": "middle", "fontSize": 15.5, "font": "Liberation Sans Narrow, Arial Narrow, DejaVu Sans Condensed, sans-serif", "color": "#000"}, "encoding": {"x": {"datum": 1.113}, "y": {"datum": 0.945}}},
{"data": {"values": [{}]}, "mark": {"type": "text", "text": "FC023466 462.RAW After 10k", "align": "left", "baseline": "middle", "fontSize": 15.5, "font": "Liberation Sans Narrow, Arial Narrow, DejaVu Sans Condensed, sans-serif", "color": "#000"}, "encoding": {"x": {"datum": 1.113}, "y": {"datum": 0.895}}},
{"data": {"values": [{}]}, "mark": {"type": "text", "text": "FC023466 572.RAW After 20k", "align": "left", "baseline": "middle", "fontSize": 15.5, "font": "Liberation Sans Narrow, Arial Narrow, DejaVu Sans Condensed, sans-serif", "color": "#000"}, "encoding": {"x": {"datum": 1.113}, "y": {"datum": 0.845}}},
{"data": {"values": [{}]}, "mark": {"type": "text", "text": "FC023466 798.RAW After 30k", "align": "left", "baseline": "middle", "fontSize": 15.5, "font": "Liberation Sans Narrow, Arial Narrow, DejaVu Sans Condensed, sans-serif", "color": "#000"}, "encoding": {"x": {"datum": 1.113}, "y": {"datum": 0.795}}},
{"data": {"values": [{}]}, "mark": {"type": "rect", "fill": "#fff", "stroke": "#000", "strokeWidth": 1}, "encoding": {"x": {"datum": 0.276}, "x2": {"datum": 0.879}, "y": {"datum": 0.399}, "y2": {"datum": 0.533}}},
{"data": {"values": [{}]}, "mark": {"type": "rect", "fill": "#fff", "stroke": "#000", "strokeWidth": 1}, "encoding": {"x": {"datum": 0.028}, "x2": {"datum": 1.968}, "y": {"datum": 0.1375}, "y2": {"datum": 0.277}}},
{"data": {"values": [{}]}, "mark": {"type": "rect", "fill": "#fff", "stroke": "#000", "strokeWidth": 1}, "encoding": {"x": {"datum": 1.575}, "x2": {"datum": 1.766}, "y": {"datum": 0.649}, "y2": {"datum": 0.7125}}},
{"data": {"values": [{}]}, "mark": {"type": "text", "text": "First MEA", "align": "center", "baseline": "middle", "fontSize": 24, "color": "#000"}, "encoding": {"x": {"datum": 0.49}, "y": {"datum": 0.939}}},
{"data": {"values": [{}]}, "mark": {"type": "text", "text": "(C)", "align": "left", "baseline": "middle", "fontSize": 30, "fontWeight": "bold", "color": "#000"}, "encoding": {"x": {"datum": 0.029}, "y": {"datum": 0.639}}},
{"data": {"values": [{}]}, "mark": {"type": "text", "text": "Initial", "align": "center", "baseline": "middle", "fontSize": 19, "font": "Liberation Sans Narrow, Arial Narrow, DejaVu Sans Condensed, sans-serif", "color": "#000"}, "encoding": {"x": {"datum": 1.67}, "y": {"datum": 0.68}}},
{"data": {"values": [{}]}, "mark": {"type": "text", "text": "After 30k Cycles\n-3mV @ 0.8A/cm²", "lineBreak": "\n", "lineHeight": 27, "align": "center", "baseline": "middle", "fontSize": 18.6, "font": "Liberation Sans Narrow, Arial Narrow, DejaVu Sans Condensed, sans-serif", "color": "#000"}, "encoding": {"x": {"datum": 0.577}, "y": {"datum": 0.502}}},
{"data": {"values": [{}]}, "mark": {"type": "text", "text": "80/59/59 °C, 7.35/7.35psig H₂/Air (OUTLET), CS(1.5,100)/CS(1.8, 167)\nGDS(0->2->0A/cm², 0.2A/cm²/step, 180s/pt, 0.4V lim)", "lineBreak": "\n", "lineHeight": 28.3, "align": "left", "baseline": "middle", "fontSize": 15.3, "font": "Liberation Sans Narrow, Arial Narrow, DejaVu Sans Condensed, sans-serif", "color": "#000"}, "encoding": {"x": {"datum": 0.056}, "y": {"datum": 0.235}}},
{"data": {"values": [{}]}, "mark": {"type": "text", "text": "HFR", "align": "center", "baseline": "middle", "fontSize": 17, "font": "Liberation Sans Narrow, Arial Narrow, DejaVu Sans Condensed, sans-serif", "color": "#000"}, "encoding": {"x": {"datum": 0.518}, "y": {"datum": 0.081}}},
{"data": {"values": [{}]}, "mark": {"type": "rule", "color": "#000", "strokeWidth": 1.3}, "encoding": {"x": {"datum": 1.573}, "y": {"datum": 0.666}, "x2": {"datum": 1.42}, "y2": {"datum": 0.6225}}},
{"data": {"values": [{}]}, "mark": {"type": "rule", "color": "#000", "strokeWidth": 1.3}, "encoding": {"x": {"datum": 0.72}, "y": {"datum": 0.535}, "x2": {"datum": 0.8}, "y2": {"datum": 0.664}}},
{"data": {"values": [{}]}, "mark": {"type": "point", "shape": "M0,0L0.65,2L-0.65,2Z", "filled": true, "size": 64, "angle": 246, "color": "#000", "opacity": 1, "strokeWidth": 0}, "encoding": {"x": {"datum": 1.42}, "y": {"datum": 0.6225}}},
{"data": {"values": [{}]}, "mark": {"type": "point", "shape": "M0,0L0.65,2L-0.65,2Z", "filled": true, "size": 64, "angle": 21.6, "color": "#000", "opacity": 1, "strokeWidth": 0}, "encoding": {"x": {"datum": 0.8}, "y": {"datum": 0.664}}}
]
}
]
}
